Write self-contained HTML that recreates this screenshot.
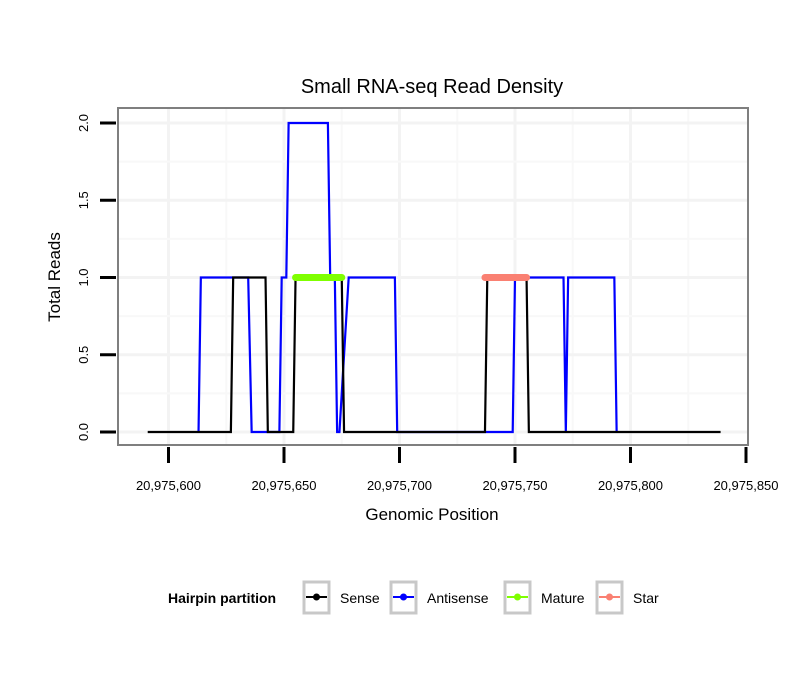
<!DOCTYPE html>
<html><head><meta charset="utf-8"><style>
body{margin:0;background:#fff;}
svg{display:block;font-family:"Liberation Sans",sans-serif;}
</style></head><body>
<svg id="chart" width="810" height="690" xmlns="http://www.w3.org/2000/svg">
<rect width="810" height="690" fill="#fff"/>
<text x="432" y="93" text-anchor="middle" font-size="20">Small RNA-seq Read Density</text>
<g id="grid"></g>
<rect x="118" y="108" width="630" height="337" fill="none" stroke="#7f7f7f" stroke-width="2"/>
<g id="axes"></g>
<g id="series"></g>
<text x="432" y="520" text-anchor="middle" font-size="17">Genomic Position</text>
<text transform="translate(60,277) rotate(-90)" text-anchor="middle" font-size="17">Total Reads</text>
<g id="legend">
<text x="168" y="603" font-size="14" font-weight="bold">Hairpin partition</text>
</g>
</svg>
<script>
const xBase = 20975600;
const xTicks = [0, 50, 100, 150, 200, 250];
const xTickLabels = ["20,975,600","20,975,650","20,975,700","20,975,750","20,975,800","20,975,850"];
const yTicks = [0, 0.5, 1, 1.5, 2];
const yTickLabels = ["0.0","0.5","1.0","1.5","2.0"];
const senseX = [-9, 27, 28, 42, 43, 54, 55, 75, 76, 137, 138, 155, 156, 239];
const senseY = [0, 0, 1, 1, 0, 0, 1, 1, 0, 0, 1, 1, 0, 0];
const antiX = [13, 14, 34.5, 36, 48, 49, 51, 52, 69, 70, 72, 73, 74, 78, 98, 99, 149, 150, 171, 172, 173, 193, 194];
const antiY = [0, 1, 1, 0, 0, 1, 1, 2, 2, 1, 1, 0, 0, 1, 1, 0, 0, 1, 1, 0, 1, 1, 0];
const matureX = [55, 75];
const matureY = [1, 1];
const starX = [137, 155];
const starY = [1, 1];

const NS = "http://www.w3.org/2000/svg";
function sx(v){ return 168.5 + v * 2.31; }
function sy(v){ return 432 - v * 154.5; }
function mk(tag, attrs, parent){
  const e = document.createElementNS(NS, tag);
  for (const k in attrs) e.setAttribute(k, attrs[k]);
  parent.appendChild(e);
  return e;
}
const grid = document.getElementById('grid');
const axes = document.getElementById('axes');
const series = document.getElementById('series');
// grid
for (let i = 0; i < xTicks.length; i++) {
  const x = sx(xTicks[i]);
  if (x < 745) {
    const g = mk('line', {x1:x, x2:x, y1:108, y2:445, stroke:'#f3f3f3', 'stroke-width':3}, grid);
    
    
  }
  if (i < xTicks.length - 1) {
    const xm = sx((xTicks[i] + xTicks[i+1]) / 2);
    const gm = mk('line', {x1:xm, x2:xm, y1:108, y2:445, stroke:'#f8f8f8', 'stroke-width':2}, grid);
    
    
  }
  const t = mk('line', {x1:x, x2:x, y1:447, y2:463, stroke:'#000', 'stroke-width':3}, axes);
  
  
  const l = mk('text', {x:x, y:490, 'text-anchor':'middle', 'font-size':13}, axes);
  l.textContent = xTickLabels[i];
  
  
}
for (let i = 0; i < yTicks.length; i++) {
  const y = sy(yTicks[i]);
  const g = mk('line', {x1:118, x2:748, y1:y, y2:y, stroke:'#f3f3f3', 'stroke-width':3}, grid);
  
  
  if (i < yTicks.length - 1) {
    const ym = sy((yTicks[i] + yTicks[i+1]) / 2);
    const gm = mk('line', {x1:118, x2:748, y1:ym, y2:ym, stroke:'#f8f8f8', 'stroke-width':2}, grid);
    
    
  }
  const t = mk('line', {x1:100, x2:116, y1:y, y2:y, stroke:'#000', 'stroke-width':3}, axes);
  
  
  const l = mk('text', {x:0, y:0, 'text-anchor':'middle', 'font-size':13, transform:'translate(88,'+y+') rotate(-90)'}, axes);
  l.textContent = yTickLabels[i];
  
  
}
function pts(xs, ys){ return xs.map((v,i)=>sx(v)+','+sy(ys[i])).join(' '); }
const s1 = mk('polyline', {points:pts(antiX, antiY), fill:'none', stroke:'#0000ff', 'stroke-width':2.2}, series);


const s2 = mk('polyline', {points:pts(senseX, senseY), fill:'none', stroke:'#000', 'stroke-width':2.2}, series);


const s3 = mk('polyline', {points:pts(matureX, matureY), fill:'none', stroke:'#7fff00', 'stroke-width':7, 'stroke-linecap':'round'}, series);


const s4 = mk('polyline', {points:pts(starX, starY), fill:'none', stroke:'#fa8072', 'stroke-width':7, 'stroke-linecap':'round'}, series);


// legend
const legNames = ["Sense","Antisense","Mature","Star"];
const legColors = ["#000","#0000ff","#7fff00","#fa8072"];
const legBox = [303, 390, 504, 596];
const leg = document.getElementById('legend');
for (let i = 0; i < 4; i++) {
  const g = mk('g', {}, leg);
  
  
  const bx = legBox[i];
  mk('rect', {x:bx+1, y:582, width:25, height:31, fill:'#fff', stroke:'#c8c8c8', 'stroke-width':3}, g);
  mk('line', {x1:bx+3, x2:bx+24, y1:597, y2:597, stroke:legColors[i], 'stroke-width':2}, g);
  mk('circle', {cx:bx+13.5, cy:597, r:3.5, fill:legColors[i]}, g);
  const t = mk('text', {x:bx+37, y:603, 'font-size':14}, g);
  t.textContent = legNames[i];
}
</script>
</body></html>
